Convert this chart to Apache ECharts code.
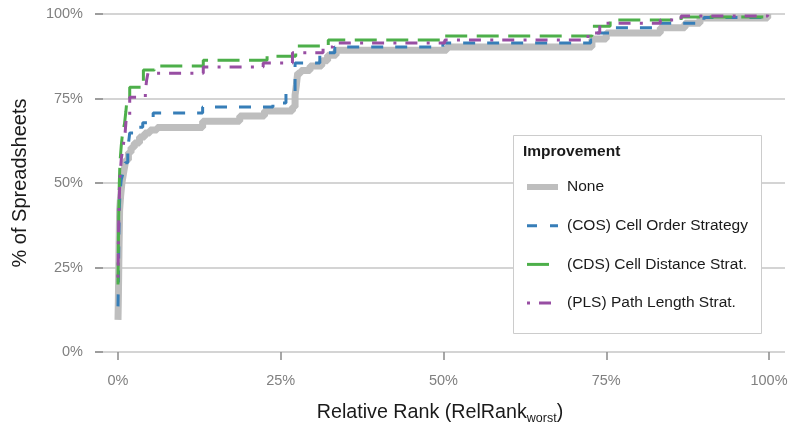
<!DOCTYPE html>
<html>
<head>
<meta charset="utf-8">
<script src="https://cdn.jsdelivr.net/npm/echarts@6/dist/echarts.min.js"></script>
<style>html,body{margin:0;padding:0;background:#fff}#c{width:791px;height:426px}</style>
</head>
<body>
<div id="c"></div>
<script>
var seriesNames = ['None', '(COS) Cell Order Strategy', '(CDS) Cell Distance Strat.', '(PLS) Path Length Strat.'];
var xTicks = [0, 25, 50, 75, 100];
var yTicks = [0, 25, 50, 75, 100];

var noneX = [0, 0.05, 0.1, 0.15, 0.2, 0.25, 0.4, 0.6, 0.9, 1.2, 1.6, 2.0, 2.5, 3.3, 4.1, 4.9, 6.0, 13.0, 18.7, 22.5, 26.8, 27.2, 27.4, 27.6, 28.1, 29.5, 31.3, 32.2, 33.5, 50.5, 72.8, 75.0, 83.3, 87.1, 89.4, 99.8];
var noneY = [9.5, 15, 22, 30, 36, 42, 46, 50, 53.5, 56.8, 59, 60.5, 61.8, 63.6, 64.8, 65.7, 66.4, 68.3, 69.8, 71.3, 72.5, 76, 79, 82.5, 83.3, 84.6, 86.2, 87.8, 89.3, 90.2, 92.6, 94.4, 95.9, 97.3, 98.8, 100];

var cosX = [0, 0.05, 0.1, 0.15, 0.2, 0.3, 0.5, 0.8, 1.1, 1.5, 1.8, 3.0, 3.8, 4.6, 5.4, 13.0, 23.8, 25.8, 27.2, 31.0, 33.3, 49.9, 72.6, 73.6, 76.0, 83.3, 90.0, 99.8];
var cosY = [13.5, 20, 28, 36, 42, 47, 51, 53, 56, 60, 64.8, 66.5, 67.8, 69.5, 70.7, 72.5, 73.7, 76.6, 85.5, 88.5, 90.2, 91.4, 92.3, 94.4, 95.9, 97.3, 99, 100];

var cdsX = [0, 0.05, 0.1, 0.2, 0.3, 0.5, 0.7, 1.0, 1.2, 1.4, 1.8, 3.9, 5.6, 13.1, 22.9, 27.3, 32.3, 50.2, 72.8, 75.6, 86.5, 99.8];
var cdsY = [20, 30, 40, 50, 56, 61, 64.8, 67.5, 71, 75, 78.3, 83.4, 84.6, 86.3, 87.5, 90.5, 92.3, 93.5, 96.4, 98.2, 99.1, 100];

var plsX = [0, 0.05, 0.1, 0.2, 0.3, 0.5, 0.8, 1.1, 1.3, 1.8, 4.2, 4.4, 4.6, 13.1, 22.3, 26.8, 31.5, 33.0, 50.2, 72.2, 74.0, 83.3, 86.5, 99.8];
var plsY = [22, 30, 38, 45, 52, 57, 61, 65, 70, 75.4, 77, 80.5, 82.5, 84.3, 85.5, 88.5, 90.2, 91.4, 92.3, 94.4, 97.3, 98.2, 99.4, 100];

function zip(xs, ys) { return xs.map(function (x, i) { return [x, ys[i]]; }); }

var FONT = "'Liberation Sans', Arial, Helvetica, sans-serif";
var chart = echarts.init(document.getElementById('c'), null, { renderer: 'canvas' });

var styles = [
  { color: '#bebebe', width: 7, type: 'solid', legendWidth: 6 },
  { color: '#377eb8', width: 3, type: [12, 12], legendDash: [10, 13] },
  { color: '#4daf4a', width: 3, type: [22, 9.5], legendDash: [22, 9.5] },
  { color: '#984ea3', width: 3, type: [3, 9, 12, 9.3], legendDash: [3, 9, 12, 9.3] }
];
var datas = [zip(noneX, noneY), zip(cosX, cosY), zip(cdsX, cdsY), zip(plsX, plsY)];

var series = datas.map(function (d, i) {
  return {
    name: seriesNames[i],
    type: 'line',
    step: 'end',
    xAxisIndex: 1,
    yAxisIndex: 1,
    symbol: 'none',
    data: d,
    color: styles[i].color,
    lineStyle: { color: styles[i].color, width: styles[i].width, type: styles[i].type, cap: 'butt' },
    z: 2 + i,
    silent: true,
    animation: false
  };
});

// legend drawn as graphic elements
var legendTop = 187, legendStep = 38.7;
var legendGraphics = [
  { type: 'rect', z: 100, shape: { x: 513.5, y: 135.5, width: 248, height: 198 }, style: { fill: '#ffffff', stroke: '#cccccc', lineWidth: 1 } },
  { type: 'text', z: 101, x: 523, y: 152, style: { text: 'Improvement', font: 'bold 15.5px ' + FONT, fill: '#1a1a1a', textVerticalAlign: 'middle' } }
];
seriesNames.forEach(function (n, i) {
  var y = legendTop + i * legendStep;
  var st = styles[i];
  legendGraphics.push({
    type: 'line', z: 101,
    shape: { x1: 527, y1: y, x2: 558, y2: y },
    style: { stroke: st.color, lineWidth: st.legendWidth || 3, lineDash: st.legendDash || null, lineCap: 'butt' }
  });
  legendGraphics.push({
    type: 'text', z: 101, x: 567, y: y,
    style: { text: n, font: '15.5px ' + FONT, fill: '#1a1a1a', textVerticalAlign: 'middle' }
  });
});

chart.setOption({
  animation: false,
  backgroundColor: '#ffffff',
  grid: [
    { left: 95, right: 6, top: 14, bottom: 74 },
    { left: 118, right: 22, top: 14, bottom: 74 }
  ],
  xAxis: [
    { gridIndex: 0, type: 'value', min: 0, max: 100, show: false },
    {
      gridIndex: 1, type: 'value', min: 0, max: 100, interval: 25, offset: 11,
      axisLine: { show: false },
      axisTick: { show: true, length: 8, lineStyle: { color: '#8a8a8a', width: 1.5 } },
      splitLine: { show: false },
      axisLabel: { formatter: '{value}%', color: '#808080', fontSize: 14.5, fontFamily: FONT, margin: 10 }
    }
  ],
  yAxis: [
    {
      gridIndex: 0, type: 'value', min: 0, max: 100, interval: 25,
      name: '% of Spreadsheets', nameLocation: 'middle', nameGap: 65, nameRotate: 90,
      nameTextStyle: { fontSize: 20, color: '#1a1a1a', fontFamily: FONT },
      axisLine: { show: false },
      axisTick: { show: true, inside: true, length: 8, lineStyle: { color: '#8a8a8a', width: 1.5 } },
      splitLine: { show: true, lineStyle: { color: '#c6c6c6', width: 1.5 } },
      axisLabel: { formatter: '{value}%', color: '#808080', fontSize: 14.5, fontFamily: FONT, margin: 12 }
    },
    { gridIndex: 1, type: 'value', min: 0, max: 100, show: false }
  ],
  graphic: legendGraphics.concat([
    { type: 'text', z: 101, x: 440, y: 413, style: {
        text: '{a|Relative Rank (RelRank}{b|worst}{a|)}',
        textAlign: 'center', textVerticalAlign: 'middle',
        rich: {
          a: { fontSize: 19.7, fontFamily: FONT, fill: '#1a1a1a', lineHeight: 24 },
          b: { fontSize: 12.5, fontFamily: FONT, fill: '#1a1a1a', lineHeight: 10, verticalAlign: 'bottom' }
        }
    } }
  ]),
  series: series
});
</script>
</body>
</html>
